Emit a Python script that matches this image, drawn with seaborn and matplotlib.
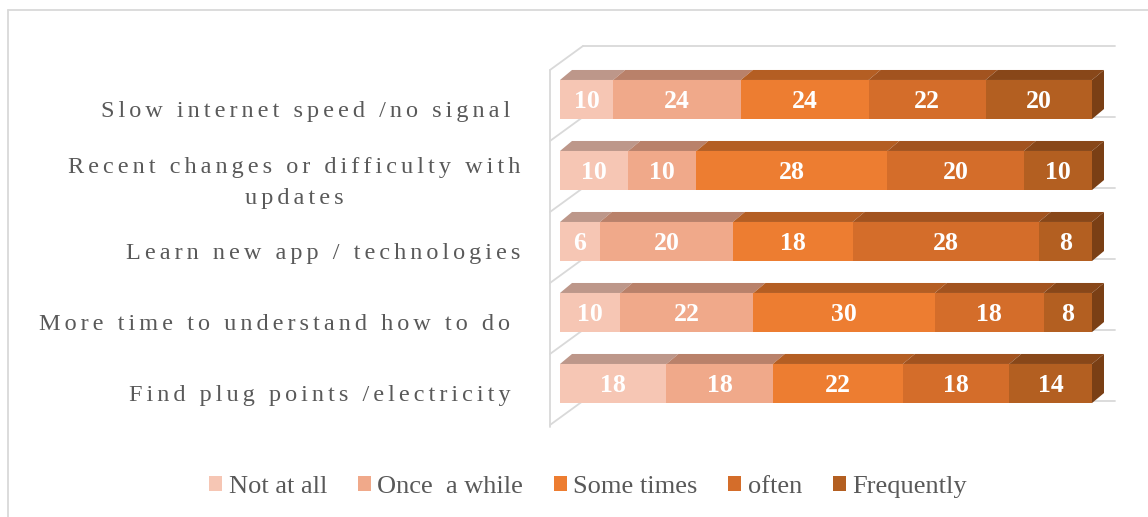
import numpy as np
import pandas as pd
import seaborn as sns
import matplotlib.pyplot as plt
from matplotlib.patches import Polygon, Patch
from matplotlib.lines import Line2D

# ---- data ---------------------------------------------------------------
categories = [
    "Slow internet speed /no signal ",
    "Recent changes or difficulty with\nupdates",
    "Learn new app / technologies",
    "More time to understand how to do ",
    "Find plug points /electricity ",
]
series = ["Not at all", "Once  a while", "Some times", "often", "Frequently"]
not_at_all = [10, 10, 6, 10, 18]
once_a_while = [24, 10, 20, 22, 18]
some_times = [24, 28, 18, 30, 22]
often = [22, 20, 28, 18, 18]
frequently = [20, 10, 8, 8, 14]

front_colors = ["#F6C6B4", "#F0A98A", "#ED7D31", "#D46D2A", "#B35F21"]
top_colors = ["#BD978A", "#B9816A", "#B45E23", "#A2531F", "#884719"]
side_color = "#7A3F15"
grid_color = "#D9D9D9"
text_color = "#595959"

values = np.array([not_at_all, once_a_while, some_times, often, frequently], dtype=float)
totals = values.sum(axis=0)
shares = values / totals * 100          # 100 % stacked
cum = np.cumsum(shares, axis=0)

# ---- figure -------------------------------------------------------------
W, H = 1148, 517
fig = plt.figure(figsize=(W / 100, H / 100), dpi=100)
sns.set_style("white")
plt.rcParams["font.family"] = ["Liberation Serif", "DejaVu Serif"]

# axes in pixel layout
ax_l, ax_r, ax_t, ax_b = 540, 1130, 30, 440
ax = fig.add_axes([ax_l / W, (H - ax_b) / H, (ax_r - ax_l) / W, (ax_b - ax_t) / H])

px_per_unit_x = 5.32
px_per_unit_y = 71.0
x0_px, y0_px = 560.0, 99.5
xlim = ((ax_l - x0_px) / px_per_unit_x, (ax_r - x0_px) / px_per_unit_x)
ylim = ((ax_b - y0_px) / px_per_unit_y, (ax_t - y0_px) / px_per_unit_y)

bar_h = 0.55
dx = 12 / px_per_unit_x      # depth offset of the 3-D faces
dy = 10 / px_per_unit_y

# ---- walls / gridlines ----------------------------------------------------
wall_front_x = -10 / px_per_unit_x
wall_back_x = 23 / px_per_unit_x
wall_right_x = 555 / px_per_unit_x
wall_dy = 24 / px_per_unit_y
n = len(categories)
for k in range(n + 1):
    yb = k - 0.754
    ax.plot([wall_back_x, wall_right_x], [yb, yb], color=grid_color, lw=1.3, zorder=0)
    ax.plot([wall_front_x, wall_back_x], [yb + wall_dy, yb], color=grid_color, lw=1.3, zorder=0)
ax.plot([wall_front_x, wall_front_x], [-0.754 + wall_dy, n - 0.754 + wall_dy + 0.03],
        color=grid_color, lw=1.3, zorder=0)

# ---- front faces: stacked by overlaying cumulative bars --------------------
for s in range(len(series) - 1, -1, -1):
    df = pd.DataFrame({"category": categories, "cum": cum[s]})
    sns.barplot(data=df, x="cum", y="category", orient="h", color=front_colors[s],
                saturation=1, width=bar_h, linewidth=0, ax=ax, zorder=2 + (len(series) - s))

# ---- top and side faces ----------------------------------------------------
for i in range(n):
    top_y = i - bar_h / 2
    for s in range(len(series)):
        left = cum[s, i] - shares[s, i]
        right = cum[s, i]
        ax.add_patch(Polygon([(left, top_y), (right, top_y), (right + dx, top_y - dy),
                              (left + dx, top_y - dy)], closed=True,
                             facecolor=top_colors[s], edgecolor="none", zorder=8))
    end = cum[-1, i]
    ax.add_patch(Polygon([(end, top_y), (end + dx, top_y - dy), (end + dx, top_y + bar_h - dy),
                          (end, top_y + bar_h)], closed=True,
                         facecolor=side_color, edgecolor="none", zorder=8))

# ---- value labels -------------------------------------------------------------
for i in range(n):
    for s in range(len(series)):
        xc = cum[s, i] - shares[s, i] / 2
        ax.text(xc, i + 0.03, f"{int(values[s, i])}", ha="center", va="center",
                color="white", fontsize=18.5, fontweight="bold",
                family=["Liberation Serif", "DejaVu Serif"], zorder=10)

ax.set_xlim(*xlim)
ax.set_ylim(*ylim)
ax.set_xlabel("")
ax.set_ylabel("")
ax.set_xticks([])
for sp in ax.spines.values():
    sp.set_visible(False)


def tracked(text, sep="\u2006"):
    return "\n".join(sep.join(line) for line in text.split("\n"))


# category labels sit slightly below the bar centre; wrapped ones a bit higher
label_shift = [(9 if "\n" not in c else 4.5) / px_per_unit_y for c in categories]
ax.set_yticks([i + label_shift[i] for i in range(n)])
ax.set_yticklabels([tracked(c) for c in categories])
ax.tick_params(axis="y", length=0, pad=14)
for lab in ax.get_yticklabels():
    lab.set_fontsize(17.5)
    lab.set_color(text_color)
    lab.set_multialignment("center")
    lab.set_family(["Liberation Serif", "DejaVu Serif"])
    lab.set_linespacing(1.65)

# ---- legend -------------------------------------------------------------------
handles = [Patch(facecolor=c, edgecolor="none", label=l) for c, l in zip(front_colors, series)]
leg = fig.legend(handles=handles, loc="center", bbox_to_anchor=(588 / W, (H - 487) / H),
                 ncol=5, frameon=False, fontsize=19, handlelength=0.5, handleheight=0.5,
                 handletextpad=0.25, columnspacing=1.15, labelcolor=text_color,
                 prop={"family": ["Liberation Serif", "DejaVu Serif"], "size": 19})

# ---- outer frame ----------------------------------------------------------------
fig.add_artist(Line2D([8 / W, 1.0], [(H - 10) / H, (H - 10) / H], color=grid_color, lw=1.3))
fig.add_artist(Line2D([8 / W, 8 / W], [0, (H - 10) / H], color=grid_color, lw=1.3))

fig.savefig("out.png", dpi=100, facecolor="white")
